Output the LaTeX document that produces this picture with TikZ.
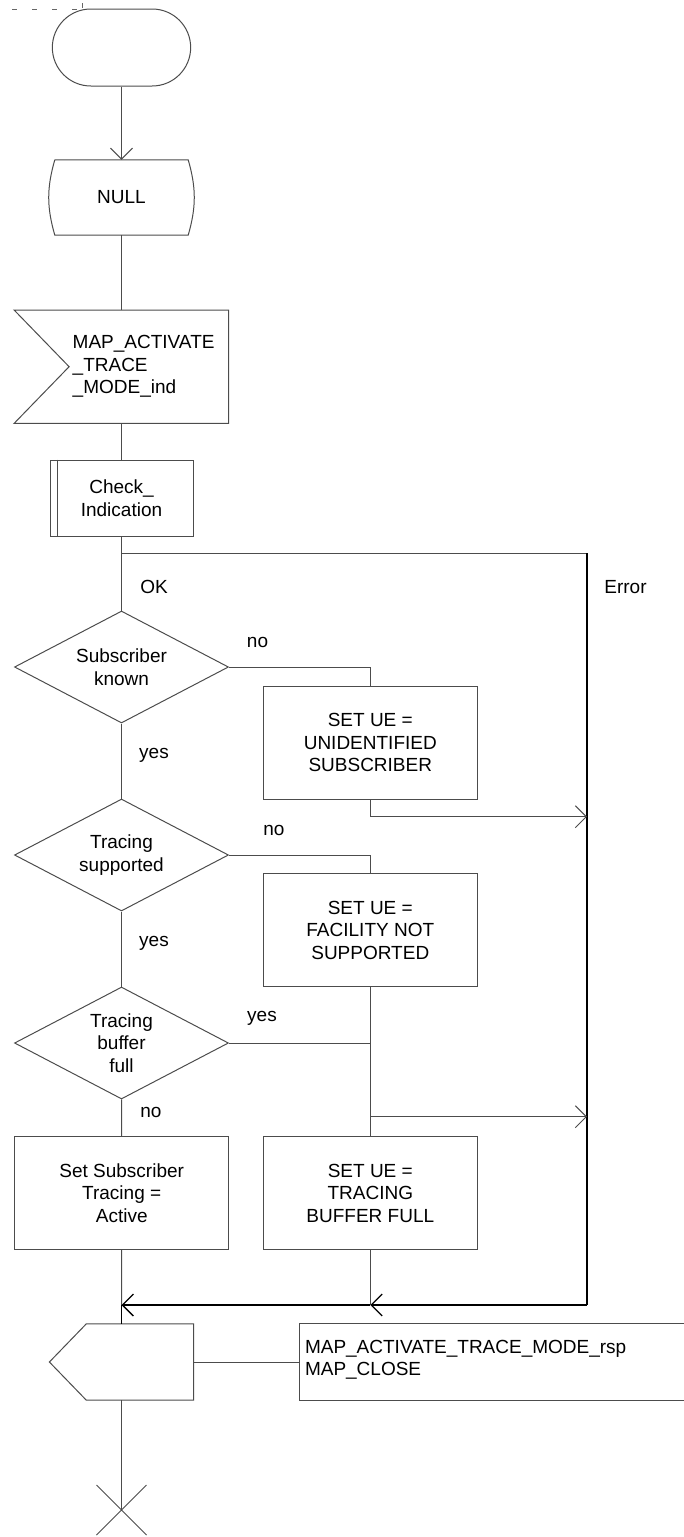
\documentclass[tikz,border=0pt]{standalone}
\usepackage{fontspec}
\setmainfont{Liberation Sans}
\usetikzlibrary{arrows.meta, positioning, shapes.geometric, shapes.misc}

\begin{document}
\begin{tikzpicture}[
  x=1pt, y=-1pt,
  every node/.style={font=\fontsize{19}{22.5}\selectfont},
  ln/.style={draw=black!70, line width=1pt},
  errln/.style={draw=black, line width=1.3pt},
  barb/.style={-{Straight Barb[length=11pt, width=22pt]}},
  flow/.style={ln, barb},
  box/.style={ln, rectangle, minimum width=214pt, minimum height=113pt, align=center, inner sep=0pt},
  dec/.style={ln, diamond, aspect=1.9, minimum width=214pt, minimum height=112pt, align=center, inner sep=0pt},
  lbl/.style={inner sep=0pt},
]
\useasboundingbox (0,0) rectangle (684,1537);

% page frame remnant
\draw[black!60, line width=0.8pt, dash pattern=on 5pt off 15pt] (12,9.3) -- (80,9.3);
\draw[black!60, line width=0.8pt] (82,3) -- (82,8);

% start and state
\node[ln, rounded rectangle, minimum width=145pt, minimum height=77pt] (start) at (121.5,47.5) {};
\node[minimum width=133pt, minimum height=75pt, inner sep=0pt] (null) at (121.5,197.5) {NULL};
\draw[ln] (null.north west) -- (null.north east) to[bend left=16] (null.south east)
  -- (null.south west) to[bend left=16] (null.north west);
\draw[flow] (start) -- (null);

% input signal
\node[text width=155.6pt, minimum height=113pt, inner sep=0pt, align=left] (ind) at (150.5,366.7)
  {MAP\_ACTIVATE\\\_TRACE\\\_MODE\_ind};
\draw[ln] ([xshift=-58.4pt]ind.north west) -- (ind.north east) -- (ind.south east)
  -- ([xshift=-58.4pt]ind.south west) -- ([xshift=-3.4pt]ind.west) -- cycle;
\draw[ln] (null) -- (null |- ind.north);

% procedure call
\node[box, minimum width=143pt, minimum height=76pt] (chk) at (121.5,498) {Check\_\\Indication};
\draw[ln] ([xshift=8pt]chk.north west) -- ([xshift=8pt]chk.south west);
\draw[ln] (ind.south -| chk) -- (chk);

\coordinate (jerr) at (121.5,553);
\coordinate (errtop) at (587,553);
\coordinate (errbot) at (587,1305);
\node[lbl] (lok) at (154,587) {OK};
\node[lbl] (lerr) at (625.5,587) {Error};

% decisions
\node[dec] (sk) at (121.5,667) {Subscriber\\known};
\node[box] (unid) at (370.3,742.5) {SET UE =\\UNIDENTIFIED\\SUBSCRIBER};
\node[lbl] (lno1) at (257.5,642) {no};
\node[lbl] (lyes1) at (154,755) {yes};

\node[dec] (ts) at (121.5,855) {Tracing\\supported};
\node[box] (fns) at (370.3,930.3) {SET UE =\\FACILITY NOT\\SUPPORTED};
\node[lbl] (lno2) at (274,830) {no};
\node[lbl] (lyes2) at (154,943) {yes};

\node[dec] (tbf) at (121.5,1043) {Tracing\\buffer\\full};
\node[lbl] (lyes3) at (262,1018) {yes};
\node[lbl] (lno3) at (151,1112) {no};

\node[box] (act) at (121.7,1193) {Set Subscriber\\Tracing =\\Active};
\node[box] (tbff) at (370.3,1193) {SET UE =\\TRACING\\BUFFER FULL};

\coordinate (u1) at (370.3,816.7);
\coordinate (u2) at (370.3,1116.7);
\coordinate (mrg) at (121.5,1305);
\coordinate (mtb) at (370.3,1305);

\draw[ln] (chk) -- (jerr) -- (sk);
\draw[ln] (jerr) -- (errtop);
\draw[errln] (errtop) -- (errbot);
\draw[ln] (sk) -- (ts);
\draw[ln] (ts) -- (tbf);
\draw[ln] (tbf) -- (act);
\draw[ln] (sk.east) -| (unid);
\draw[ln] (unid) -- (u1);
\draw[flow] (u1) -- (u1 -| errtop);
\draw[ln] (ts.east) -| (fns);
\draw[ln] (fns) -- (tbff);
\draw[ln] (tbf.east) -| (tbff);
\draw[flow] (u2) -- (u2 -| errtop);
\draw[ln] (tbff) -- (mtb);
\draw[ln] (act) -- (mrg);
\draw[errln, barb] (errbot) -- (mtb);
\draw[errln, barb] (mtb) -- (mrg);

% output signal and comment
\node[minimum width=107pt, minimum height=75.7pt, inner sep=0pt] (out) at (139.9,1362) {};
\draw[ln] (out.north west) -- (out.north east) -- (out.south east) -- (out.south west)
  -- ([xshift=-36.8pt]out.west) -- cycle;
\draw[errln] (mrg) -- (mrg |- out.north);
\node[minimum width=384pt, minimum height=75.7pt, inner sep=0pt] (cmtbox) at (492,1362) {};
\draw[ln] (cmtbox.north east) -- (cmtbox.north west) -- (cmtbox.south west) -- (cmtbox.south east);
\node[anchor=west, align=left, inner sep=0pt] (cmt) at ([xshift=5pt, yshift=2.5pt]cmtbox.west)
  {MAP\_ACTIVATE\_TRACE\_MODE\_rsp\\MAP\_CLOSE};
\draw[ln] (out.east) -- (cmtbox.west);

% stop
\coordinate (stop) at (121.5,1510);
\draw[ln] (mrg |- out.south) -- (stop);
\draw[ln] (stop) ++(-25,-25) -- ++(50,50) (stop) ++(-25,25) -- ++(50,-50);
\end{tikzpicture}
\end{document}
